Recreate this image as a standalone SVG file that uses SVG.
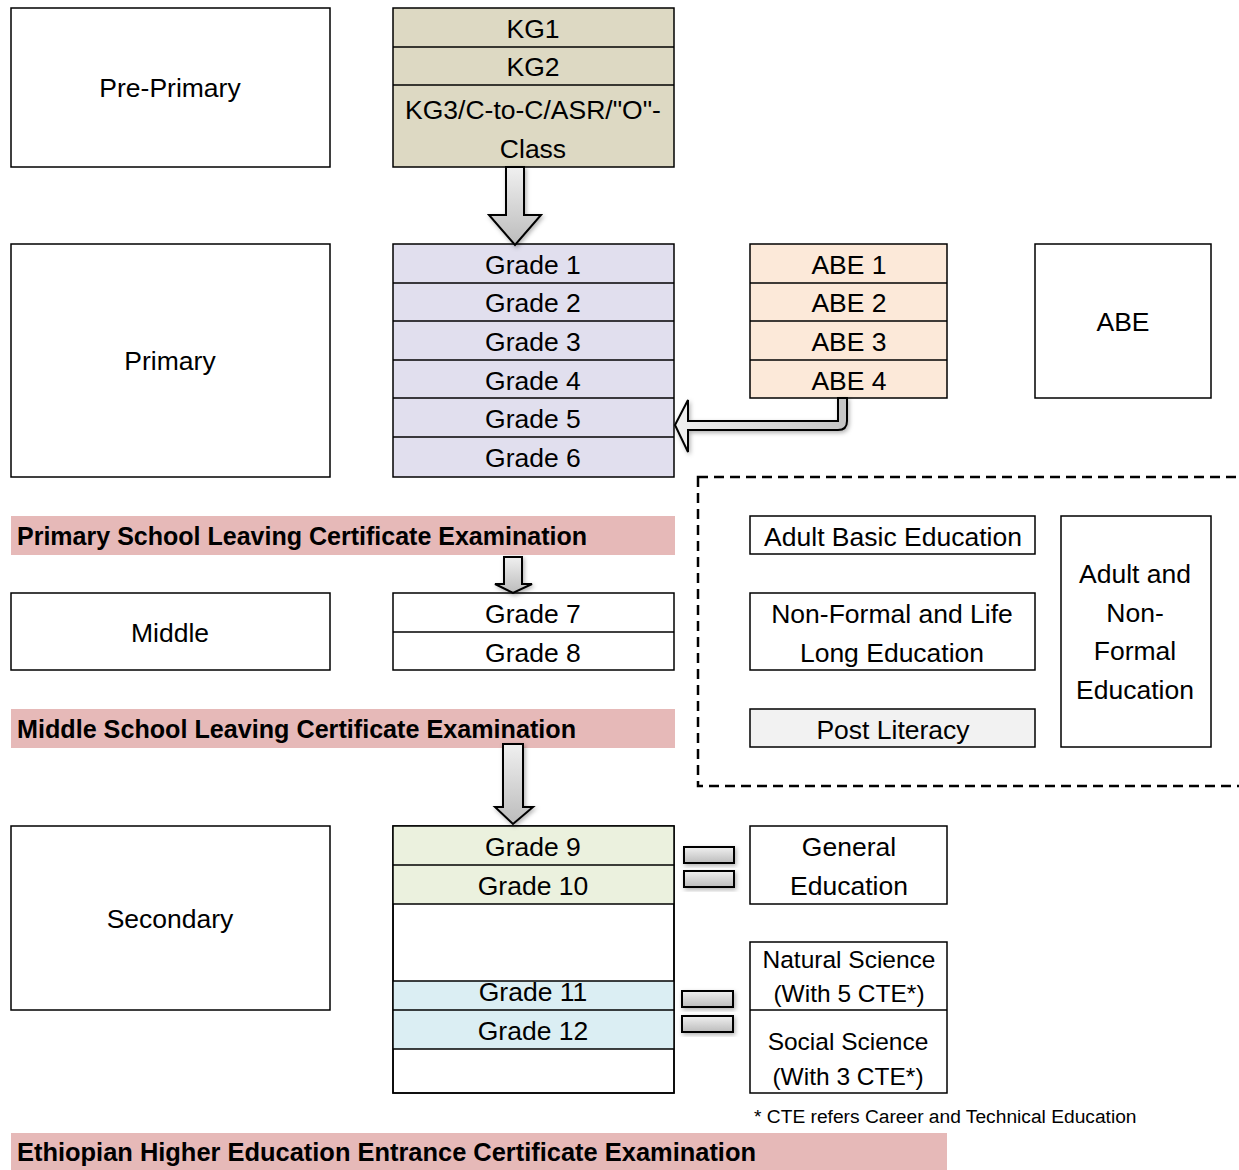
<svg xmlns="http://www.w3.org/2000/svg" width="1239" height="1170" viewBox="0 0 1239 1170">
<style>
.b{fill:#fff;stroke:#000;stroke-width:1.5}
.t{font-family:"Liberation Sans",Arial,sans-serif;font-size:26.5px;fill:#000;text-anchor:middle;dominant-baseline:central}
.s{font-size:24.5px}
.h{font-family:"Liberation Sans",Arial,sans-serif;font-size:25px;font-weight:bold;fill:#000}
.ex{fill:#e6b9b8}
.ar{fill:url(#g);stroke:#000;stroke-width:2;filter:url(#sh)}
.row{stroke:#000;stroke-width:1.5}
</style>
<defs>
<linearGradient id="g" x1="0" y1="0" x2="0" y2="1">
<stop offset="0" stop-color="#f0f0f0"/><stop offset="1" stop-color="#bcbcbc"/>
</linearGradient>
<linearGradient id="gh" x1="0" y1="0" x2="1" y2="0">
<stop offset="0" stop-color="#f0f0f0"/><stop offset="1" stop-color="#c4c4c4"/>
</linearGradient>
<filter id="sh" x="-30%" y="-30%" width="160%" height="160%">
<feDropShadow dx="1.5" dy="2" stdDeviation="2" flood-color="#000" flood-opacity="0.3"/>
</filter>
</defs>

<g id="pre-primary"><rect class="b" x="11" y="8" width="319" height="159"/><text class="t" x="170" y="88">Pre-Primary</text></g>
<g id="kg-table">
<rect class="row" fill="#ddd9c3" x="393" y="8" width="281" height="159"/>
<line class="row" x1="393" y1="47" x2="674" y2="47"/><line class="row" x1="393" y1="85" x2="674" y2="85"/>
<text class="t" x="533" y="29">KG1</text><text class="t" x="533" y="67">KG2</text>
<text class="t" x="533" y="110">KG3/C-to-C/ASR/"O"-</text><text class="t" x="533" y="149">Class</text>
</g>

<g id="primary"><rect class="b" x="11" y="244" width="319" height="233"/><text class="t" x="170" y="361">Primary</text></g>
<g id="grades-1-6">
<rect class="row" fill="#e1dfee" x="393" y="244" width="281" height="233"/>
<line class="row" x1="393" y1="283" x2="674" y2="283"/><line class="row" x1="393" y1="321" x2="674" y2="321"/>
<line class="row" x1="393" y1="360" x2="674" y2="360"/><line class="row" x1="393" y1="398" x2="674" y2="398"/>
<line class="row" x1="393" y1="437" x2="674" y2="437"/>
<text class="t" x="533" y="265">Grade 1</text><text class="t" x="533" y="303">Grade 2</text>
<text class="t" x="533" y="342">Grade 3</text><text class="t" x="533" y="381">Grade 4</text>
<text class="t" x="533" y="419">Grade 5</text><text class="t" x="533" y="458">Grade 6</text>
</g>
<g id="abe-levels">
<rect class="row" fill="#fce9d9" x="750" y="244" width="197" height="154"/>
<line class="row" x1="750" y1="283" x2="947" y2="283"/><line class="row" x1="750" y1="321" x2="947" y2="321"/>
<line class="row" x1="750" y1="360" x2="947" y2="360"/>
<text class="t" x="849" y="265">ABE 1</text><text class="t" x="849" y="303">ABE 2</text>
<text class="t" x="849" y="342">ABE 3</text><text class="t" x="849" y="381">ABE 4</text>
</g>
<g id="abe"><rect class="b" x="1035" y="244" width="176" height="154"/><text class="t" x="1123" y="322">ABE</text></g>

<g id="primary-exam"><rect class="ex" x="11" y="516" width="664" height="39"/><text class="h" x="17" y="545" textLength="570" lengthAdjust="spacingAndGlyphs">Primary School Leaving Certificate Examination</text></g>

<g id="middle"><rect class="b" x="11" y="593" width="319" height="77"/><text class="t" x="170" y="633">Middle</text></g>
<g id="grades-7-8">
<rect class="b" x="393" y="593" width="281" height="77"/>
<line class="row" x1="393" y1="632" x2="674" y2="632"/>
<text class="t" x="533" y="614">Grade 7</text><text class="t" x="533" y="653">Grade 8</text>
</g>

<g id="middle-exam"><rect class="ex" x="11" y="709" width="664" height="39"/><text class="h" x="17" y="738" textLength="559" lengthAdjust="spacingAndGlyphs">Middle School Leaving Certificate Examination</text></g>

<g id="adult-nonformal-area">
<rect x="698" y="477" width="560" height="309" fill="none" stroke="#000" stroke-width="2.5" stroke-dasharray="10,6"/>
</g>
<g id="adult-basic"><rect class="b" x="750" y="516" width="285" height="38"/><text class="t" x="893" y="537">Adult Basic Education</text></g>
<g id="nonformal-lifelong"><rect class="b" x="750" y="593" width="285" height="77"/><text class="t" x="892" y="614">Non-Formal and Life</text><text class="t" x="892" y="653">Long Education</text></g>
<g id="post-literacy"><rect class="b" style="fill:#f2f2f2" x="750" y="709" width="285" height="38"/><text class="t" x="893" y="730">Post Literacy</text></g>
<g id="adult-nonformal"><rect class="b" x="1061" y="516" width="150" height="231"/>
<text class="t" x="1135" y="574">Adult and</text><text class="t" x="1135" y="613">Non-</text><text class="t" x="1135" y="651">Formal</text><text class="t" x="1135" y="690">Education</text></g>

<g id="secondary"><rect class="b" x="11" y="826" width="319" height="184"/><text class="t" x="170" y="919">Secondary</text></g>
<g id="grades-9-12">
<rect class="b" x="393" y="826" width="281" height="267"/>
<rect fill="#ebf1de" x="393" y="826" width="281" height="78"/>
<rect fill="#dbeef3" x="393" y="981" width="281" height="68"/>
<rect fill="none" class="row" x="393" y="826" width="281" height="267"/>
<line class="row" x1="393" y1="865" x2="674" y2="865"/><line class="row" x1="393" y1="904" x2="674" y2="904"/>
<line class="row" x1="393" y1="981" x2="674" y2="981"/><line class="row" x1="393" y1="1010" x2="674" y2="1010"/>
<line class="row" x1="393" y1="1049" x2="674" y2="1049"/>
<text class="t" x="533" y="847">Grade 9</text><text class="t" x="533" y="886">Grade 10</text>
<text class="t" x="533" y="992">Grade 11</text><text class="t" x="533" y="1031">Grade 12</text>
</g>
<g id="general-education"><rect class="b" x="750" y="826" width="197" height="78"/><text class="t" x="849" y="847">General</text><text class="t" x="849" y="886">Education</text></g>
<g id="streams">
<rect class="b" x="750" y="942" width="197" height="151"/>
<line class="row" x1="750" y1="1010" x2="947" y2="1010"/>
<text class="t s" x="849" y="959">Natural Science</text><text class="t s" x="849" y="993">(With 5 CTE*)</text>
<text class="t s" x="848" y="1041">Social Science</text><text class="t s" x="848" y="1076">(With 3 CTE*)</text>
</g>
<g id="footnote"><text x="754" y="1123" font-family="Liberation Sans,Arial,sans-serif" font-size="19.2">* CTE refers Career and Technical Education</text></g>

<g id="higher-exam"><rect class="ex" x="11" y="1133" width="936" height="37"/><text class="h" x="17" y="1161" textLength="739" lengthAdjust="spacingAndGlyphs">Ethiopian Higher Education Entrance Certificate Examination</text></g>

<g id="connectors">
<path class="ar" d="M506,167 L524,167 L524,215 L541,215 L515,245 L489,215 L506,215 Z"/>
<path class="ar" d="M838,398 L847,398 L847,421 Q847,430 838,430 L688,430 L688,452 L675,425 L688,400 L688,421 L838,421 Z" style="fill:url(#gh)"/>
<path class="ar" d="M504,557 L522,557 L522,584 L532,584 L513,593 L495,584 L504,584 Z"/>
<path class="ar" d="M503,744 L523,744 L523,807 L533,807 L513,824 L495,807 L503,807 Z"/>
<rect class="ar" x="684" y="847" width="50" height="16"/>
<rect class="ar" x="684" y="871" width="50" height="16"/>
<rect class="ar" x="682" y="991" width="51" height="16"/>
<rect class="ar" x="682" y="1016" width="51" height="16"/>
</g>
</svg>
